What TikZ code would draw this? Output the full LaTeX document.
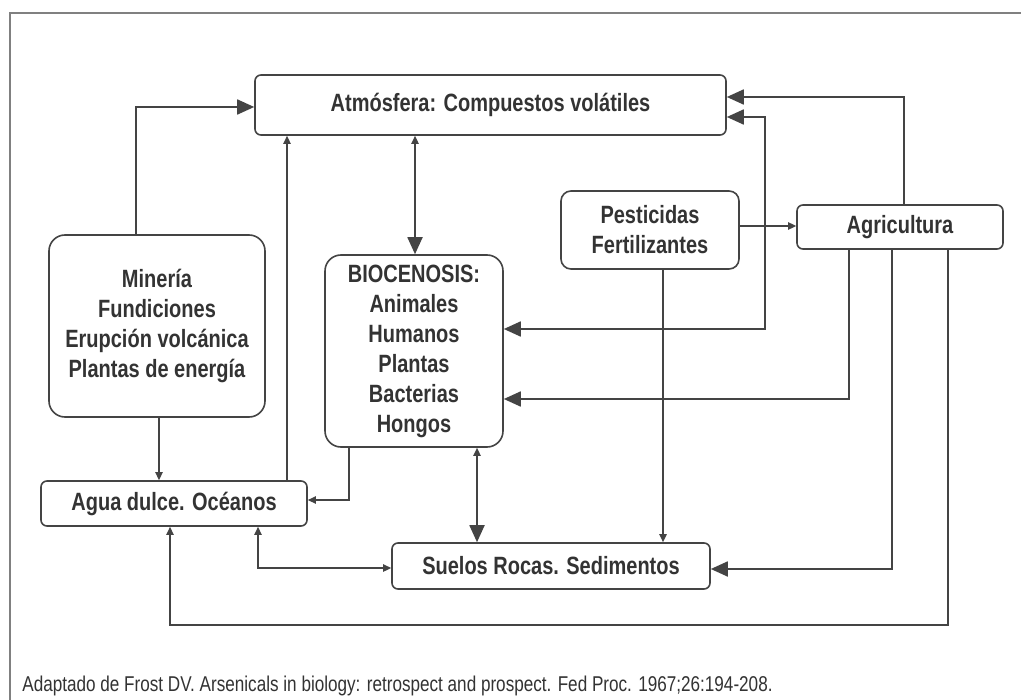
\documentclass[tikz,border=0pt]{standalone}
\usepackage{fontspec}
\setmainfont{Liberation Sans}[FakeStretch=0.8]
\usetikzlibrary{arrows.meta}
\definecolor{ink}{HTML}{333333}
\definecolor{lin}{HTML}{444444}
\tikzset{
  box/.style={draw=lin, line width=0.8pt, align=center, inner sep=0pt,
    font=\bfseries\fontsize{12.5}{15}\selectfont, text=ink},
  conn/.style={draw=lin, line width=0.9pt},
  big/.style={conn, -{Triangle[length=8.5pt,width=7.5pt]}},
  small/.style={conn, -{Triangle[length=4pt,width=3.6pt]}},
  bigbig/.style={conn, {Triangle[length=8.5pt,width=7.5pt]}-{Triangle[length=8.5pt,width=7.5pt]}},
  smallbig/.style={conn, {Triangle[length=4pt,width=3.6pt]}-{Triangle[length=8.5pt,width=7.5pt]}},
  smallsmall/.style={conn, {Triangle[length=4pt,width=3.6pt]}-{Triangle[length=4pt,width=3.6pt]}},
}
\begin{document}
\begin{tikzpicture}[x=0.5pt,y=-0.5pt]
\useasboundingbox (0,0) rectangle (1021,700);
\fill[white] (0,0) rectangle (1021,700);
% frame
\draw[draw=gray, line width=0.8pt] (10,700) -- (10,13) -- (1021,13);

\node[box, rounded corners=3pt, minimum width=235.5pt, minimum height=30pt] (atm) at (490.5,105) {Atmósfera: Compuestos volátiles};
\node[box, rounded corners=8pt, minimum width=108pt, minimum height=91pt] (min) at (157,326) {Minería\\Fundiciones\\Erupción volcánica\\Plantas de energía};
\node[box, rounded corners=8pt, minimum width=89pt, minimum height=96pt] (bio) at (414,351) {BIOCENOSIS:\\Animales\\Humanos\\Plantas\\Bacterias\\Hongos};
\node[box, rounded corners=3pt, minimum width=133pt, minimum height=22.5pt] (agua) at (174,503.5) {Agua dulce. Océanos};
\node[box, rounded corners=3pt, minimum width=159pt, minimum height=23pt] (suelos) at (551,566) {Suelos Rocas. Sedimentos};
\node[box, rounded corners=5pt, minimum width=89pt, minimum height=39pt] (pest) at (650,230) {Pesticidas\\Fertilizantes};
\node[box, rounded corners=3pt, minimum width=103pt, minimum height=22pt] (agri) at (900,227) {Agricultura};

\coordinate (loopL) at (170,625);
\coordinate (loopR) at (948,625);

% connectors
\draw[big] (min.north -| 136,0) |- (atm.west |- 0,107);
\draw[small] (agua.north -| 287,0) -- (atm.south -| 287,0);
\draw[smallbig] (atm.south -| 415,0) -- (bio.north -| 415,0);
\draw[small] (min.south -| 159,0) -- (agua.north -| 159,0);
\draw[small] (bio.south -| 349,0) |- (agua.east |- 0,500);
\draw[smallbig] (bio.south -| 477,0) -- (suelos.north -| 477,0);
\draw[smallsmall] (agua.south -| 258,0) |- (suelos.west |- 0,568);
\draw[small] (agri.south -| loopR) -- (loopR) -- (loopL) -- (agua.south -| loopL);
\draw[small] (pest.east |- 0,226) -- (agri.west |- 0,226);
\draw[small] (pest.south -| 663,0) -- (suelos.north -| 663,0);
\draw[big] (agri.north -| 904,0) |- (atm.east |- 0,97);
\draw[bigbig] (bio.east |- 0,329) -| (765,117) -- (atm.east |- 0,117);
\draw[big] (agri.south -| 849,0) |- (bio.east |- 0,399);
\draw[big] (agri.south -| 892,0) |- (suelos.east |- 0,569);

\node[anchor=west, text=ink, font=\fontsize{10.7}{12}\selectfont, inner sep=0pt] (src) at (22,686) {Adaptado de Frost DV. Arsenicals in biology: retrospect and prospect. Fed Proc. 1967;26:194-208.};
\end{tikzpicture}
\end{document}
